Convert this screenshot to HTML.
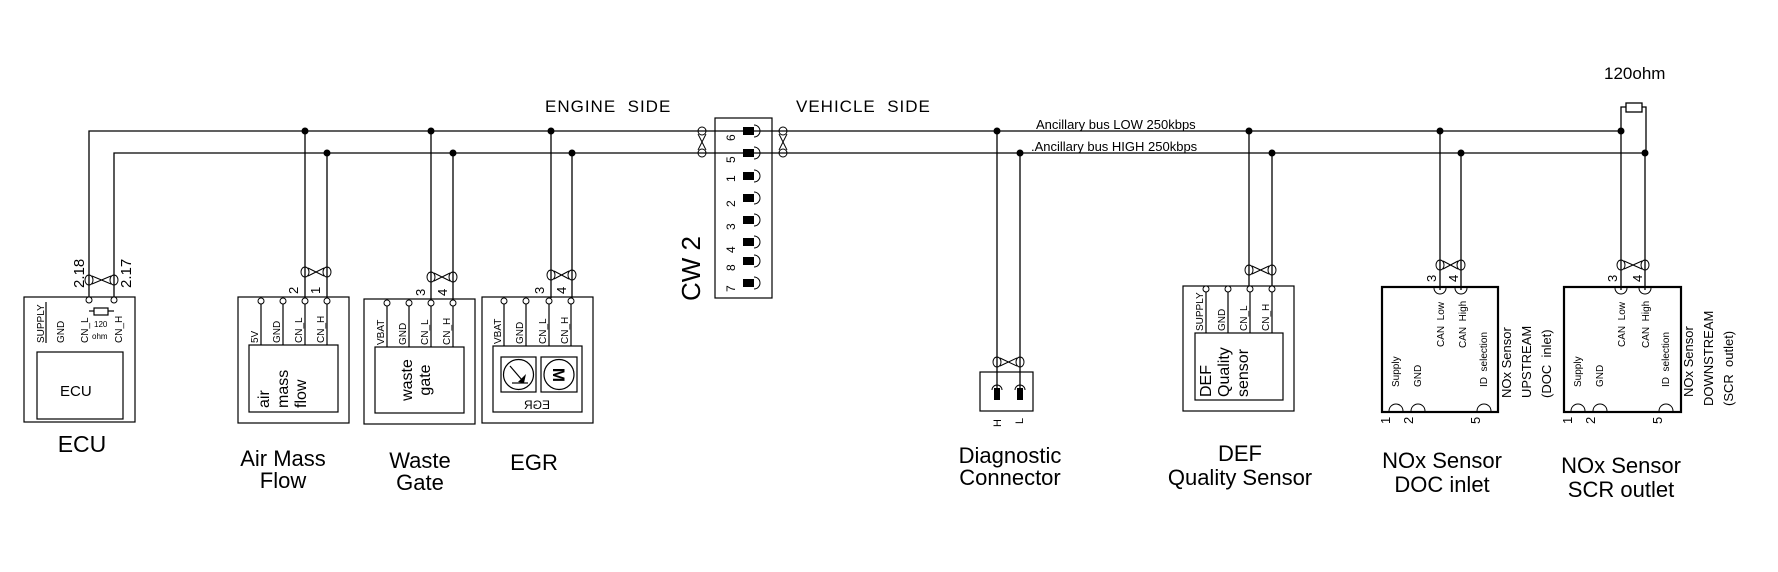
<!DOCTYPE html>
<html><head><meta charset="utf-8"><style>
html,body{margin:0;padding:0;background:#fff}
svg{display:block}
text{font-family:"Liberation Sans",sans-serif;fill:#000}
.s{font-size:10px}
.L{font-size:22px;text-anchor:middle}
</style></head><body>
<svg width="1778" height="572" viewBox="0 0 1778 572" xmlns="http://www.w3.org/2000/svg">
<g stroke="#000" stroke-width="1.3" fill="none">
<!-- bus lines -->
<polyline points="89,300 89,131 1621,131"/>
<polyline points="114,300 114,153 1646,153"/>
<!-- terminator -->
<polyline points="1621,131 1621,107 1626,107"/>
<polyline points="1646,153 1646,107 1642,107"/>
<rect x="1626" y="103" width="16" height="9"/>
<!-- drops -->
<line x1="305" y1="131" x2="305" y2="298"/><line x1="327" y1="153" x2="327" y2="298"/>
<line x1="431" y1="131" x2="431" y2="300"/><line x1="453" y1="153" x2="453" y2="300"/>
<line x1="551" y1="131" x2="551" y2="298"/><line x1="572" y1="153" x2="572" y2="298"/>
<line x1="997" y1="131" x2="997" y2="392"/><line x1="1020" y1="153" x2="1020" y2="392"/>
<line x1="1249" y1="131" x2="1249" y2="287"/><line x1="1272" y1="153" x2="1272" y2="287"/>
<line x1="1440" y1="131" x2="1440" y2="290"/><line x1="1461" y1="153" x2="1461" y2="290"/>
<line x1="1621" y1="131" x2="1621" y2="290"/><line x1="1645" y1="153" x2="1645" y2="290"/>
</g>
<!-- junction dots -->
<g fill="#000">
<circle cx="305" cy="131" r="3.5"/><circle cx="327" cy="153" r="3.5"/>
<circle cx="431" cy="131" r="3.5"/><circle cx="453" cy="153" r="3.5"/>
<circle cx="551" cy="131" r="3.5"/><circle cx="572" cy="153" r="3.5"/>
<circle cx="997" cy="131" r="3.5"/><circle cx="1020" cy="153" r="3.5"/>
<circle cx="1249" cy="131" r="3.5"/><circle cx="1272" cy="153" r="3.5"/>
<circle cx="1440" cy="131" r="3.5"/><circle cx="1461" cy="153" r="3.5"/>
<circle cx="1621" cy="131" r="3.5"/><circle cx="1645" cy="153" r="3.5"/>
</g>
<!-- twisted pair symbols (horizontal) -->
<g stroke="#000" stroke-width="1" fill="none">
<g><ellipse cx="89" cy="280" rx="4" ry="5"/><ellipse cx="114" cy="280" rx="4" ry="5"/><line x1="92" y1="276" x2="111" y2="284"/><line x1="92" y1="284" x2="111" y2="276"/></g>
<g><ellipse cx="305" cy="272" rx="4" ry="5"/><ellipse cx="327" cy="272" rx="4" ry="5"/><line x1="308" y1="268" x2="324" y2="276"/><line x1="308" y1="276" x2="324" y2="268"/></g>
<g><ellipse cx="431" cy="277" rx="4" ry="5"/><ellipse cx="453" cy="277" rx="4" ry="5"/><line x1="434" y1="273" x2="450" y2="281"/><line x1="434" y1="281" x2="450" y2="273"/></g>
<g><ellipse cx="551" cy="275" rx="4" ry="5"/><ellipse cx="572" cy="275" rx="4" ry="5"/><line x1="554" y1="271" x2="569" y2="279"/><line x1="554" y1="279" x2="569" y2="271"/></g>
<g><ellipse cx="997" cy="362" rx="4" ry="5"/><ellipse cx="1020" cy="362" rx="4" ry="5"/><line x1="1000" y1="358" x2="1017" y2="366"/><line x1="1000" y1="366" x2="1017" y2="358"/></g>
<g><ellipse cx="1249" cy="270" rx="4" ry="5"/><ellipse cx="1272" cy="270" rx="4" ry="5"/><line x1="1252" y1="266" x2="1269" y2="274"/><line x1="1252" y1="274" x2="1269" y2="266"/></g>
<g><ellipse cx="1440" cy="265" rx="4" ry="5"/><ellipse cx="1461" cy="265" rx="4" ry="5"/><line x1="1443" y1="261" x2="1458" y2="269"/><line x1="1443" y1="269" x2="1458" y2="261"/></g>
<g><ellipse cx="1621" cy="265" rx="4" ry="5"/><ellipse cx="1645" cy="265" rx="4" ry="5"/><line x1="1624" y1="261" x2="1642" y2="269"/><line x1="1624" y1="269" x2="1642" y2="261"/></g>
<!-- vertical twists on bus -->
<g><ellipse cx="702" cy="131" rx="4" ry="4"/><ellipse cx="702" cy="153" rx="4" ry="4"/><line x1="698" y1="134" x2="706" y2="150"/><line x1="706" y1="134" x2="698" y2="150"/></g>
<g><ellipse cx="783" cy="131" rx="4" ry="4"/><ellipse cx="783" cy="153" rx="4" ry="4"/><line x1="779" y1="134" x2="787" y2="150"/><line x1="787" y1="134" x2="779" y2="150"/></g>
</g>

<!-- ECU -->
<g stroke="#000" stroke-width="1.2" fill="none">
<rect x="24" y="297" width="111" height="125"/>
<rect x="37" y="352" width="86" height="67"/>
<line x1="46" y1="302" x2="46" y2="343"/>
<rect x="94" y="308" width="14" height="7"/>
<line x1="89" y1="311" x2="94" y2="311"/><line x1="108" y1="311" x2="114" y2="311"/>
</g>
<g stroke="#000" fill="#fff" stroke-width="1"><circle cx="89" cy="300" r="3"/><circle cx="114" cy="300" r="3"/></g>
<text class="s" transform="translate(44,343) rotate(-90)">SUPPLY</text>
<text class="s" transform="translate(64,343) rotate(-90)">GND</text>
<text class="s" transform="translate(88,343) rotate(-90)">CN_L</text>
<text class="s" transform="translate(122,343) rotate(-90)">CN_H</text>
<text x="94" y="327" style="font-size:8px">120</text>
<text x="92" y="339" style="font-size:8px">ohm</text>
<text x="60" y="396" style="font-size:15px">ECU</text>
<text style="font-size:15px" transform="translate(84,288) rotate(-90)">2.18</text>
<text style="font-size:15px" transform="translate(131,288) rotate(-90)">2.17</text>

<!-- generic box helper drawn manually: Air Mass -->
<g stroke="#000" stroke-width="1.2" fill="none">
<rect x="238" y="297" width="111" height="126"/><rect x="249" y="345" width="89" height="67"/>
<line x1="261" y1="304" x2="261" y2="345"/><line x1="283" y1="304" x2="283" y2="345"/><line x1="305" y1="304" x2="305" y2="345"/><line x1="327" y1="304" x2="327" y2="345"/>
<rect x="364" y="299" width="111" height="125"/><rect x="375" y="347" width="89" height="66"/>
<line x1="387" y1="306" x2="387" y2="347"/><line x1="409" y1="306" x2="409" y2="347"/><line x1="431" y1="306" x2="431" y2="347"/><line x1="453" y1="306" x2="453" y2="347"/>
<rect x="482" y="297" width="111" height="126"/><rect x="493" y="346" width="89" height="66"/>
<line x1="504" y1="304" x2="504" y2="346"/><line x1="526" y1="304" x2="526" y2="346"/><line x1="549" y1="304" x2="549" y2="346"/><line x1="571" y1="304" x2="571" y2="346"/>
<rect x="1183" y="286" width="111" height="125"/><rect x="1195" y="333" width="88" height="67"/>
<line x1="1206" y1="292" x2="1206" y2="333"/><line x1="1228" y1="292" x2="1228" y2="333"/><line x1="1250" y1="292" x2="1250" y2="333"/><line x1="1272" y1="292" x2="1272" y2="333"/>
</g>
<g stroke="#000" fill="#fff" stroke-width="1">
<circle cx="261" cy="301" r="3"/><circle cx="283" cy="301" r="3"/><circle cx="305" cy="301" r="3"/><circle cx="327" cy="301" r="3"/>
<circle cx="387" cy="303" r="3"/><circle cx="409" cy="303" r="3"/><circle cx="431" cy="303" r="3"/><circle cx="453" cy="303" r="3"/>
<circle cx="504" cy="301" r="3"/><circle cx="526" cy="301" r="3"/><circle cx="549" cy="301" r="3"/><circle cx="571" cy="301" r="3"/>
<circle cx="1206" cy="289" r="3"/><circle cx="1228" cy="289" r="3"/><circle cx="1250" cy="289" r="3"/><circle cx="1272" cy="289" r="3"/>
</g>
<text class="s" transform="translate(258,343) rotate(-90)">5V</text>
<text class="s" transform="translate(280,343) rotate(-90)">GND</text>
<text class="s" transform="translate(302,343) rotate(-90)">CN_L</text>
<text class="s" transform="translate(324,343) rotate(-90)">CN_H</text>
<text class="s" transform="translate(384,345) rotate(-90)">VBAT</text>
<text class="s" transform="translate(406,345) rotate(-90)">GND</text>
<text class="s" transform="translate(428,345) rotate(-90)">CN_L</text>
<text class="s" transform="translate(450,345) rotate(-90)">CN_H</text>
<text class="s" transform="translate(501,344) rotate(-90)">VBAT</text>
<text class="s" transform="translate(523,344) rotate(-90)">GND</text>
<text class="s" transform="translate(546,344) rotate(-90)">CN_L</text>
<text class="s" transform="translate(568,344) rotate(-90)">CN_H</text>
<text class="s" transform="translate(1203,331) rotate(-90)">SUPPLY</text>
<text class="s" transform="translate(1225,331) rotate(-90)">GND</text>
<text class="s" transform="translate(1247,331) rotate(-90)">CN_L</text>
<text class="s" transform="translate(1269,331) rotate(-90)">CN_H</text>
<!-- pin numbers -->
<text style="font-size:13px" transform="translate(298,294) rotate(-90)">2</text>
<text style="font-size:13px" transform="translate(320,294) rotate(-90)">1</text>
<text style="font-size:13px" transform="translate(425,296) rotate(-90)">3</text>
<text style="font-size:13px" transform="translate(447,296) rotate(-90)">4</text>
<text style="font-size:13px" transform="translate(544,294) rotate(-90)">3</text>
<text style="font-size:13px" transform="translate(566,294) rotate(-90)">4</text>
<!-- inner texts -->
<text style="font-size:16px" transform="translate(269,408) rotate(-90)">air</text>
<text style="font-size:16px" transform="translate(288,408) rotate(-90)">mass</text>
<text style="font-size:16px" transform="translate(306,408) rotate(-90)">flow</text>
<text style="font-size:16px;text-anchor:middle" transform="translate(412,380) rotate(-90)">waste</text>
<text style="font-size:16px;text-anchor:middle" transform="translate(430,380) rotate(-90)">gate</text>
<text style="font-size:16px" transform="translate(1211,397) rotate(-90)">DEF</text>
<text style="font-size:16px" transform="translate(1229,397) rotate(-90)">Quality</text>
<text style="font-size:16px" transform="translate(1248,397) rotate(-90)">sensor</text>
<!-- EGR icons -->
<g stroke="#000" stroke-width="1.2" fill="none">
<rect x="501" y="357" width="35" height="35"/><circle cx="518.5" cy="374.5" r="15"/>
<line x1="510" y1="366" x2="522" y2="380"/><line x1="512" y1="383" x2="528" y2="383"/>
<rect x="541" y="357" width="36" height="35"/><circle cx="559" cy="374.5" r="15"/>
</g>
<path d="M518 382 L526 374 L524 383 Z" fill="#000"/>
<text x="559" y="381" style="font-size:17px;font-weight:bold;text-anchor:middle" transform="rotate(90,559,375)">M</text>
<text style="font-size:12px;text-anchor:middle" transform="translate(537,409) scale(-1,1)">EGR</text>

<!-- CW2 -->
<rect x="715" y="118" width="57" height="180" fill="none" stroke="#000" stroke-width="1.2"/>
<g fill="#000">
<rect x="743" y="127" width="11" height="8"/><rect x="743" y="149" width="11" height="8"/><rect x="743" y="172" width="11" height="8"/><rect x="743" y="194" width="11" height="8"/><rect x="743" y="216" width="11" height="8"/><rect x="743" y="238" width="11" height="8"/><rect x="743" y="257" width="11" height="8"/><rect x="743" y="279" width="11" height="8"/>
</g>
<g fill="none" stroke="#000" stroke-width="1">
<path d="M754 125 a6 6 0 0 1 0 12"/><path d="M754 147 a6 6 0 0 1 0 12"/><path d="M754 170 a6 6 0 0 1 0 12"/><path d="M754 192 a6 6 0 0 1 0 12"/><path d="M754 214 a6 6 0 0 1 0 12"/><path d="M754 236 a6 6 0 0 1 0 12"/><path d="M754 255 a6 6 0 0 1 0 12"/><path d="M754 277 a6 6 0 0 1 0 12"/>
</g>
<g style="font-size:12px">
<text transform="translate(735,141) rotate(-90)">6</text><text transform="translate(735,163) rotate(-90)">5</text><text transform="translate(735,182) rotate(-90)">1</text><text transform="translate(735,207) rotate(-90)">2</text><text transform="translate(735,230) rotate(-90)">3</text><text transform="translate(735,253) rotate(-90)">4</text><text transform="translate(735,271) rotate(-90)">8</text><text transform="translate(735,292) rotate(-90)">7</text>
</g>
<text style="font-size:26px" transform="translate(700,301) rotate(-90)">CW 2</text>
<text x="545" y="112" style="font-size:17px;letter-spacing:1px">ENGINE&#160;&#160;SIDE</text>
<text x="796" y="112" style="font-size:17px;letter-spacing:1px">VEHICLE&#160;&#160;SIDE</text>
<text x="1036" y="129" style="font-size:13px">Ancillary bus LOW 250kbps</text>
<text x="1031" y="151" style="font-size:13px">.Ancillary bus HIGH 250kbps</text>
<text x="1604" y="79" style="font-size:17px">120ohm</text>

<!-- Diagnostic connector -->
<rect x="980" y="372" width="53" height="39" fill="none" stroke="#000" stroke-width="1.2"/>
<g fill="#000"><rect x="994" y="388" width="6" height="12"/><rect x="1017" y="388" width="6" height="12"/></g>
<g fill="none" stroke="#000"><path d="M992 390 a5 5 0 0 1 10 0"/><path d="M1015 390 a5 5 0 0 1 10 0"/></g>
<text style="font-size:11px" transform="translate(1001,427) rotate(-90)">H</text>
<text style="font-size:11px" transform="translate(1023,424) rotate(-90)">L</text>

<!-- NOx sensors -->
<g stroke="#000" fill="none">
<rect x="1382" y="287" width="116" height="125" stroke-width="2.2"/>
<rect x="1564" y="287" width="117" height="125" stroke-width="2.2"/>
<g stroke-width="1">
<path d="M1434 288 a6 6 0 0 0 12 0"/><path d="M1455 288 a6 6 0 0 0 12 0"/>
<path d="M1615 288 a6 6 0 0 0 12 0"/><path d="M1639 288 a6 6 0 0 0 12 0"/>
<path d="M1389 411 a7 7 0 0 1 14 0"/><path d="M1411 411 a7 7 0 0 1 14 0"/><path d="M1477 411 a7 7 0 0 1 14 0"/>
<path d="M1571 411 a7 7 0 0 1 14 0"/><path d="M1593 411 a7 7 0 0 1 14 0"/><path d="M1659 411 a7 7 0 0 1 14 0"/>
</g>
</g>
<g class="s">
<text transform="translate(1444,347) rotate(-90)">CAN&#160;&#160;Low</text>
<text transform="translate(1466,348) rotate(-90)">CAN&#160;&#160;High</text>
<text transform="translate(1399,387) rotate(-90)">Supply</text>
<text transform="translate(1421,387) rotate(-90)">GND</text>
<text transform="translate(1487,387) rotate(-90)">ID&#160;&#160;selection</text>
<text transform="translate(1625,347) rotate(-90)">CAN&#160;&#160;Low</text>
<text transform="translate(1649,348) rotate(-90)">CAN&#160;&#160;High</text>
<text transform="translate(1581,387) rotate(-90)">Supply</text>
<text transform="translate(1603,387) rotate(-90)">GND</text>
<text transform="translate(1669,387) rotate(-90)">ID&#160;&#160;selection</text>
</g>
<g style="font-size:13px">
<text transform="translate(1436,282) rotate(-90)">3</text><text transform="translate(1458,282) rotate(-90)">4</text>
<text transform="translate(1617,282) rotate(-90)">3</text><text transform="translate(1642,282) rotate(-90)">4</text>
<text transform="translate(1390,424) rotate(-90)">1</text><text transform="translate(1413,424) rotate(-90)">2</text><text transform="translate(1480,424) rotate(-90)">5</text>
<text transform="translate(1572,424) rotate(-90)">1</text><text transform="translate(1595,424) rotate(-90)">2</text><text transform="translate(1662,424) rotate(-90)">5</text>
</g>
<g style="font-size:13px">
<text transform="translate(1511,398) rotate(-90)">NOx Sensor</text>
<text transform="translate(1531,398) rotate(-90)">UPSTREAM</text>
<text transform="translate(1551,398) rotate(-90)">(DOC&#160;&#160;inlet)</text>
<text transform="translate(1693,397) rotate(-90)">NOx Sensor</text>
<text transform="translate(1713,406) rotate(-90)">DOWNSTREAM</text>
<text transform="translate(1733,406) rotate(-90)">(SCR&#160;&#160;outlet)</text>
</g>

<!-- big labels -->
<text class="L" x="82" y="452" style="font-size:23px">ECU</text>
<text class="L" x="283" y="466">Air Mass</text><text class="L" x="283" y="488">Flow</text>
<text class="L" x="420" y="468">Waste</text><text class="L" x="420" y="490">Gate</text>
<text class="L" x="534" y="470">EGR</text>
<text class="L" x="1010" y="463">Diagnostic</text><text class="L" x="1010" y="485">Connector</text>
<text class="L" x="1240" y="461">DEF</text><text class="L" x="1240" y="485">Quality Sensor</text>
<text class="L" x="1442" y="468">NOx Sensor</text><text class="L" x="1442" y="492">DOC inlet</text>
<text class="L" x="1621" y="473">NOx Sensor</text><text class="L" x="1621" y="497">SCR outlet</text>
</svg>
</body></html>
